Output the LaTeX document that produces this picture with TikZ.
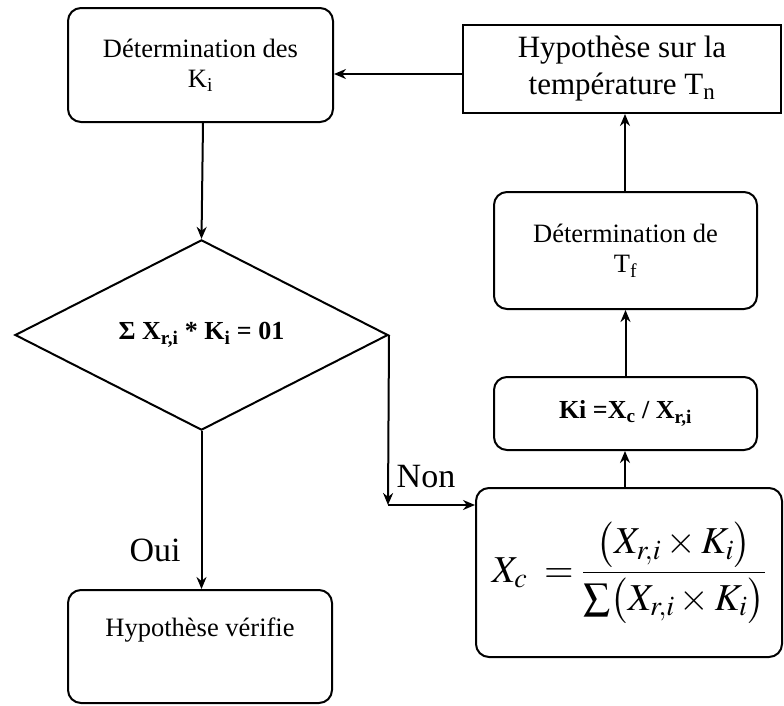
\documentclass[tikz,border=0pt]{standalone}
\usepackage{amsmath}
\usepackage{mathptmx}
\usepackage{fontspec}
\setmainfont{Liberation Serif}
\usetikzlibrary{shapes.geometric,arrows.meta}
\tikzset{
  arr/.style={line width=2pt,-{Stealth[length=12pt,width=10pt]}},
  rbox/.style={draw,line width=2pt,rounded corners=13pt,align=center,inner sep=0pt},
  sbox/.style={draw,line width=2pt,align=center,inner sep=0pt},
  txt/.style={font=\fontsize{26.5}{30}\selectfont},
  bigtxt/.style={font=\fontsize{31}{37}\selectfont},
  lbl/.style={font=\fontsize{34}{40}\selectfont,inner sep=0pt}
}
\begin{document}
\begin{tikzpicture}[x=1pt,y=-1pt]
\useasboundingbox (0,0) rectangle (784,705);
\node[rbox,txt,minimum width=265pt,minimum height=114pt] (b1) at (200.5,65) {Détermination des\\K\textsubscript{i}};
\node[sbox,bigtxt,minimum width=318pt,minimum height=88pt] (b2) at (622,69) {Hypothèse sur la\\température T\textsubscript{n}};
\node[rbox,txt,minimum width=263pt,minimum height=117pt] (b3) at (625.5,250.5) {Détermination de\\T\textsubscript{f}};
\node[rbox,txt,font=\fontsize{26}{30}\selectfont\bfseries,minimum width=263pt,minimum height=73pt] (b4) at (625.5,413.5) {Ki =X\textsubscript{c} / X\textsubscript{r,i}};
\node[rbox,minimum width=306pt,minimum height=169pt,font=\fontsize{38}{42}\selectfont] (b5) at (629,572.5) {$X_c\;=\dfrac{\bigl(X_{r,i}\times K_i\bigr)}{\sum\bigl(X_{r,i}\times K_i\bigr)}$};
\node[rbox,txt,minimum width=264pt,minimum height=113pt] (b6) at (200,646.5) {Hypothèse vérifie\\\strut};
\node[draw,diamond,line width=2pt,minimum width=373pt,minimum height=180pt,inner sep=0pt,font=\fontsize{26}{30}\selectfont\bfseries] (d) at (201.5,335) {Σ X\textsubscript{r,i} * K\textsubscript{i} = 01};
\coordinate (c) at (388,505);
\draw[arr] (b2.west |- 0,74) -- (b1.east |- 0,74);
\draw[arr] (b3.north -| 625,0) -- (b2.south -| 625,0);
\draw[arr] (b4.north) -- (b3.south);
\draw[arr] (b5.north -| 625,0) -- (b4.south -| 625,0);
\draw[arr] (b1.south -| 203,0) -- (d.north);
\draw[arr] (d.east) -- (c);
\draw[arr] (c) -- (c -| b5.west);
\draw[arr] (d.south) -- (b6.north -| d.south);
\node[lbl] (non) at (426,477) {Non};
\node[lbl] (oui) at (155,550) {Oui};
\end{tikzpicture}
\end{document}
